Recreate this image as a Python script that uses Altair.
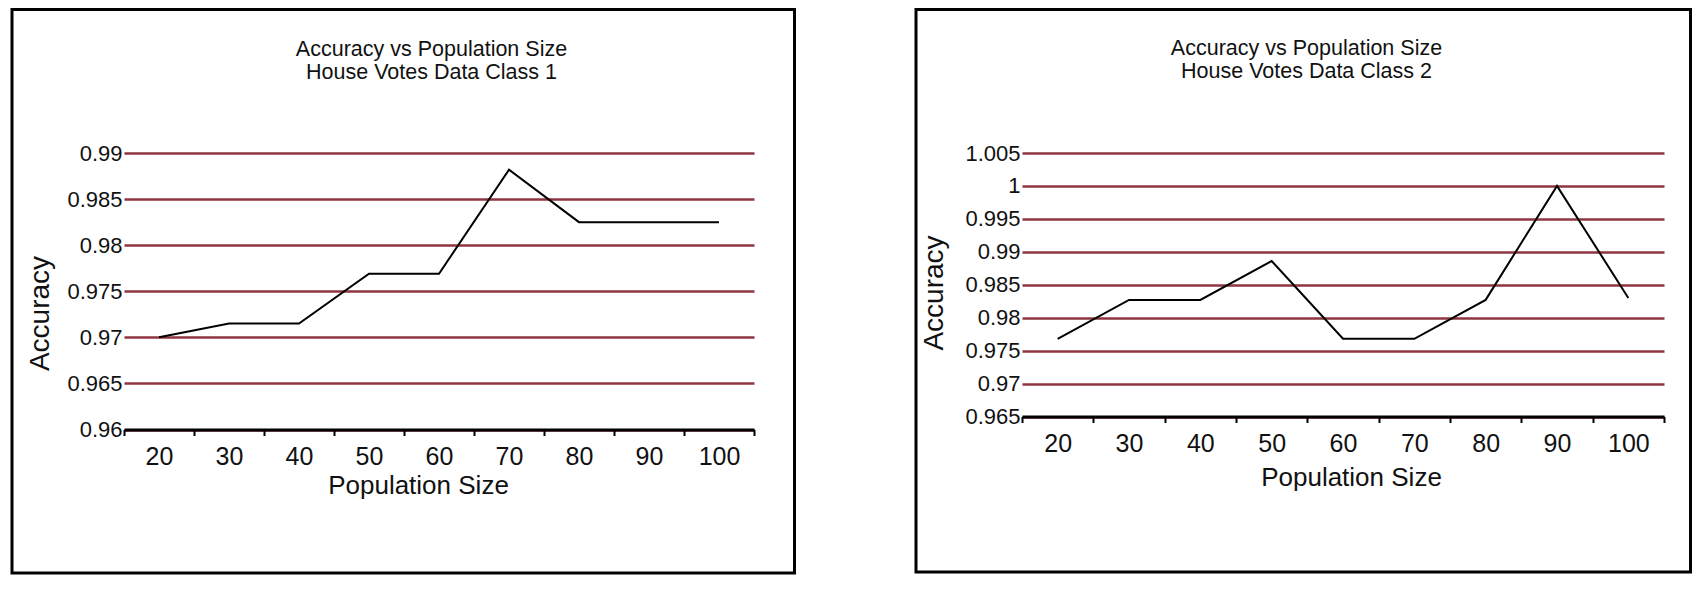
import altair as alt
import pandas as pd

# ---- data ----
pop = [20, 30, 40, 50, 60, 70, 80, 90, 100]
acc_class1 = [0.9700, 0.9715, 0.9715, 0.9769, 0.9769, 0.9882, 0.9825, 0.9825, 0.9825]
acc_class2 = [0.9768, 0.9827, 0.9827, 0.9886, 0.9768, 0.9768, 0.9827, 1.0000, 0.9830]
ticks_class1 = [0.96, 0.965, 0.97, 0.975, 0.98, 0.985, 0.99]
ticks_class2 = [0.965, 0.97, 0.975, 0.98, 0.985, 0.99, 0.995, 1.0, 1.005]
titles_class1 = ["Accuracy vs Population Size", "House Votes Data Class 1"]
titles_class2 = ["Accuracy vs Population Size", "House Votes Data Class 2"]

FONT = "Liberation Sans"
GRID = "#8e3541"
TXT = "#111111"


def title_layer(lines, x, y, size):
    return alt.Chart(pd.DataFrame({"a": [0]})).mark_text(
        text=lines, font=FONT, fontSize=size, color=TXT, lineHeight=22.5,
        align="center", baseline="middle"
    ).encode(x=alt.value(x), y=alt.value(y))


def panel(values, ticks, titles, w, h, frame, tpos, ytitle, xtitle):
    df = pd.DataFrame({"pop": pop, "acc": values})
    x = alt.X(
        "pop:O",
        scale=alt.Scale(type="band", paddingInner=0, paddingOuter=0),
        axis=alt.Axis(
            title="Population Size", labelAngle=0, tickBand="extent",
            grid=False, domainColor="black", domainWidth=3,
            tickColor="black", tickWidth=2, tickSize=6,
            labelFontSize=25, labelPadding=9, labelColor=TXT,
            titleFontSize=26, titleFontWeight="normal", titleColor=TXT,
            titleX=xtitle[0], titleY=xtitle[1], titleBaseline="middle",
            titleAlign="center",
        ),
    )
    y = alt.Y(
        "acc:Q",
        scale=alt.Scale(domain=[ticks[0], ticks[-1]], nice=False, zero=False),
        axis=alt.Axis(
            title="Accuracy", values=ticks, format=".3~f",
            grid=True, gridColor=GRID, gridWidth=2.5, gridOpacity=1,
            domain=False, ticks=False, labelFontSize=22, labelPadding=2,
            labelColor=TXT, titleFontSize=28, titleFontWeight="normal",
            titleColor=TXT, titleX=ytitle[0], titleY=ytitle[1],
            titleAngle=-90, titleBaseline="middle", titleAlign="center",
        ),
    )
    line = alt.Chart(df).mark_line(color="black", strokeWidth=2).encode(x=x, y=y)
    box = alt.Chart(pd.DataFrame({"a": [0]})).mark_rect(
        fillOpacity=0, stroke="black", strokeWidth=3
    ).encode(
        x=alt.value(frame[0]), x2=alt.value(frame[1]),
        y=alt.value(frame[2]), y2=alt.value(frame[3]),
    )
    ttl = title_layer(titles, tpos[0], tpos[1], 21.5)
    return alt.layer(line, box, ttl).properties(width=w, height=h)


left = panel(acc_class1, ticks_class1, titles_class1, 630, 276.5,
             (-112, 670.5, -143.5, 420), (307.5, -103),
             (-84, 160), (294, 56))
right = panel(acc_class2, ticks_class2, titles_class2, 642, 263.5,
              (-106, 668.5, -143.5, 419), (284.5, -104),
              (-88, 139.5), (329, 61))

chart = alt.hconcat(left, right, spacing=118).properties(
    padding={"left": 2, "top": 0, "right": 0, "bottom": 0},
    background="white",
).configure_view(stroke=None).configure_axis(labelFont=FONT, titleFont=FONT)

chart.save("out.html", embed_options={"renderer": "svg", "actions": False})
